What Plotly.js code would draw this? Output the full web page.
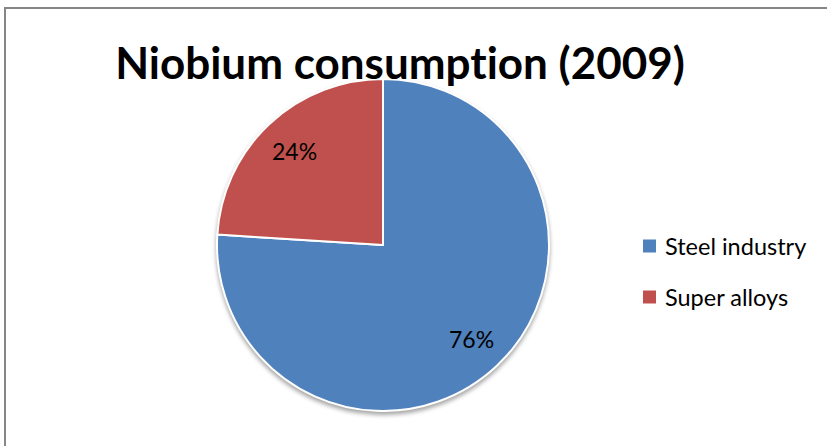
<!DOCTYPE html>
<html>
<head>
<meta charset="utf-8">
<script src="https://cdn.plot.ly/plotly-3.0.1.min.js"></script>
<style>
  html, body { margin: 0; padding: 0; background: #ffffff; }
  #chart { width: 827px; height: 446px; }
  #chart svg text { font-variant-ligatures: none; font-feature-settings: "liga" 0; }
  #chart .pielayer { filter: drop-shadow(0px 3px 2px rgba(0, 0, 0, 0.35)); }
</style>
</head>
<body>
<div id="chart"></div>
<script>
// Niobium end uses in 2009, share of consumption (%)
const labels = ['Steel industry', 'Super alloys'];
const shares = [76, 24];
const colors = ['#4F81BD', '#C0504D'];
const chartTitle = 'Niobium consumption (2009)';

const W = 827, H = 446;
const px = v => v / W;
const py = v => 1 - v / H;

// pie geometry in pixels
const cx = 383, cy = 245, R = 166;
const FONT = 'Lato, sans-serif';

const trace = {
  type: 'pie',
  labels: labels,
  values: shares,
  sort: false,
  direction: 'clockwise',
  rotation: 0,
  marker: { colors: colors, line: { color: '#ffffff', width: 2 } },
  textinfo: 'none',
  hoverinfo: 'label+percent',
  showlegend: false,
  domain: { x: [px(cx - R), px(cx + R)], y: [py(cy + R), py(cy - R)] }
};

// percentage labels placed along each slice's middle angle
const total = shares.reduce((a, b) => a + b, 0);
const annotations = [];
let acc = 0;
shares.forEach((v, i) => {
  const mid = (acc + v / 2) / total * 2 * Math.PI;
  acc += v;
  const k = 0.78 * R;
  annotations.push({
    xref: 'paper', yref: 'paper',
    x: px(cx + k * Math.sin(mid)), y: py(cy - k * Math.cos(mid)),
    text: Math.round(v / total * 100) + '%',
    showarrow: false, xanchor: 'center', yanchor: 'middle',
    font: { family: FONT, size: 23, color: '#000000' }
  });
});

// legend: colour keys and labels
const legendX = 643, legendY0 = 246, legendStep = 51, keySize = 13;
const shapes = [{
  type: 'rect', xref: 'paper', yref: 'paper',
  x0: px(5), x1: 1.05, y0: -0.05, y1: py(8),
  line: { color: '#868686', width: 2 },
  fillcolor: 'rgba(0,0,0,0)', layer: 'below'
}];
labels.forEach((lab, i) => {
  const yc = legendY0 + i * legendStep;
  shapes.push({
    type: 'rect', xref: 'paper', yref: 'paper',
    x0: px(legendX), x1: px(legendX + keySize),
    y0: py(yc + keySize / 2), y1: py(yc - keySize / 2),
    line: { width: 0 }, fillcolor: colors[i]
  });
  annotations.push({
    xref: 'paper', yref: 'paper',
    x: px(legendX + keySize + 7), y: py(yc),
    text: lab, showarrow: false, xanchor: 'left', yanchor: 'middle',
    font: { family: FONT, size: 23.5, color: '#000000' }
  });
});

const layout = {
  width: W,
  height: H,
  margin: { l: 0, r: 0, t: 0, b: 0 },
  paper_bgcolor: '#ffffff',
  title: {
    text: '<b>' + chartTitle + '</b>',
    font: { family: FONT, size: 44, color: '#000000' },
    x: px(400), xanchor: 'center',
    y: py(64), yanchor: 'middle'
  },
  showlegend: false,
  annotations: annotations,
  shapes: shapes
};

Plotly.newPlot('chart', [trace], layout, { displayModeBar: false, staticPlot: true });
</script>
</body>
</html>
